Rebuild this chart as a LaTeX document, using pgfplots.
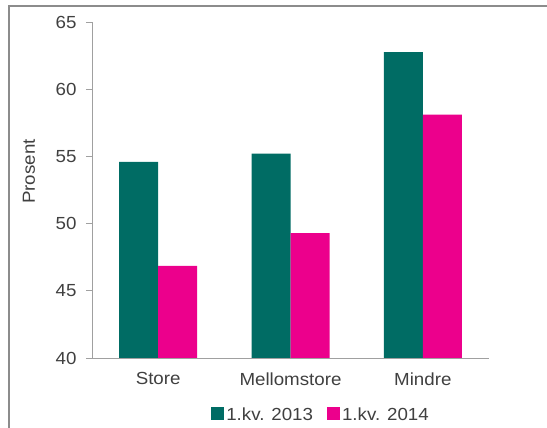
\documentclass[border=0pt]{standalone}
\usepackage{pgfplots}
\pgfplotsset{compat=1.18}
\usepackage{fontspec}
\setmainfont[FakeStretch=1.07]{Liberation Sans}
\definecolor{teal13}{HTML}{006C64}
\definecolor{mag14}{HTML}{EC008C}
\definecolor{txt}{HTML}{404040}
\definecolor{axgray}{HTML}{A0A0A0}
\definecolor{frame}{HTML}{8C8C8C}
\begin{document}
\begin{tikzpicture}
\useasboundingbox (0,0) rectangle (547bp,428bp);
\draw[line width=2bp, frame] (8.5bp,0) -- (8.5bp,422bp) -- (547bp,422bp);
\begin{axis}[
  at={(92bp,70bp)}, anchor=south west,
  scale only axis, width=397bp, height=336bp,
  ymin=40, ymax=65, ytick={40,45,...,65},
  xmin=-0.5, xmax=2.5,
  xtick={0,1,2}, xticklabels={Store,Mellomstore,Mindre},
  extra x ticks={-0.5,0.5,1.5,2.5}, extra x tick labels={},
  extra x tick style={major tick length=6bp, tick style={axgray}},
  x tick style={draw=none},
  axis x line*=bottom, axis y line*=left,
  axis line style={axgray, line width=0.8bp},
  y tick style={axgray, line width=0.8bp},
  tick align=outside, major tick length=6bp,
  font=\fontsize{17.5bp}{20bp}\selectfont,
  tick label style={txt},
  /pgf/number format/assume math mode=true,
  yticklabel style={xshift=-6bp},
  xticklabel style={yshift=-5bp},
  ylabel={Prosent},
  ylabel style={at={(axis description cs:-0.159,0.555)}, anchor=center, txt},
  ybar=0pt, bar width=39bp,
  legend style={at={(0.577,-0.17)}, anchor=center, draw=none, legend columns=2,
    /tikz/every even column/.append style={column sep=12bp}, text=txt,
    font=\fontsize{17.5bp}{20bp}\selectfont},
  legend image code/.code={\fill[#1] (0bp,-5bp) rectangle (13bp,8bp);},
]
\addplot[fill=teal13, draw=none, bar shift=-19.5bp] coordinates {(0,54.6) (1,55.2) (2,62.75)};
\addplot[fill=mag14, draw=none, bar shift=19.5bp] coordinates {(0,46.85) (1,49.3) (2,58.1)};
\legend{1.kv. 2013, 1.kv. 2014}
\end{axis}
\end{tikzpicture}
\end{document}
